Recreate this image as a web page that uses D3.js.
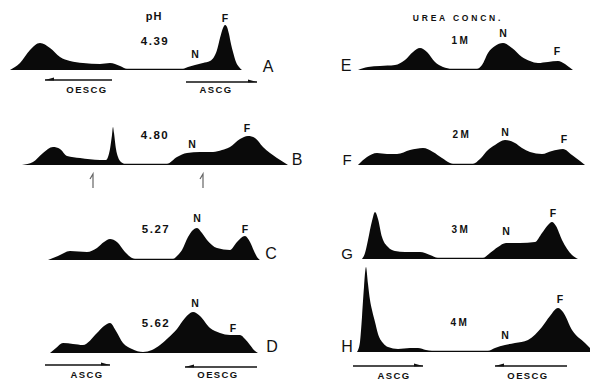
<!DOCTYPE html>
<html>
<head>
<meta charset="utf-8">
<script src="https://cdn.jsdelivr.net/npm/d3@7/dist/d3.min.js"></script>
<style>
  html, body { margin: 0; padding: 0; background: #fff; }
  svg { display: block; }
  text { font-family: "Liberation Sans", Arial, sans-serif; fill: #111; }
</style>
</head>
<body>
<svg id="chart" width="590" height="382"></svg>
<script>
// Densitometer scans of the electrophoresis strips.
// Each point is [distance along strip, deflection]; distance runs 0-280 across a column.

// pH series (left column)
const profileA = [[0,0],[10,7],[20,20],[30,27],[40,22],[50,13],[60,9],[73,7],[90,6],[100,7],[110,4],[117,1.2],
  [173,1.2],[178,3],[185,5],[193,7],[200,9],[204,13],[207,20],[210,32],[213,42],[215,45],[217,43],[219,36],
  [221,26],[223,18],[226,8],[229,3],[232,0]];
const profileB = [[12,0],[23,3],[33,12],[43,18],[50,16],[57,9],[70,7],[90,5],[96,5],[98,8],[100,16],[102,30],
  [103,38],[104,32],[106,16],[108,8],[111,3],[115,1.2],[157,1.2],[167,8],[177,12],[190,13],[203,13],[212,15],
  [220,18],[230,26],[238,29],[245,27],[253,18],[260,12],[267,7],[278,0]];
const profileC = [[38,0],[48,4],[60,9],[77,8],[87,12],[94,18],[100,21],[107,18],[115,8],[122,2],[125,1.2],
  [163,1.2],[168,5],[172,10],[178,23],[183,30],[187,32],[192,27],[197,20],[207,12],[220,10],[227,18],
  [235,24],[240,18],[244,9],[247,3],[250,0]];
const profileD = [[40,0],[46,5],[53,10],[63,9],[73,8],[87,20],[94,27],[100,30],[106,22],[113,10],[122,4],
  [133,1],[142,3],[150,8],[158,15],[167,24],[175,35],[183,41],[190,37],[200,25],[210,20],[220,18],[230,18],
  [235,14],[240,8],[244,3],[248,0]];

// Urea series (right column)
const profileE = [[53,0],[63,3],[75,4],[90,5],[100,10],[108,18],[115,22],[122,18],[130,8],[138,3],[147,1.2],
  [172,1.2],[177,5],[183,17],[190,24],[198,27],[207,22],[217,13],[225,9],[233,7],[243,8],[253,9],[260,6],
  [264,3],[268,0]];
const profileF = [[53,0],[62,8],[72,12],[82,11],[92,11],[105,15],[118,17],[128,13],[137,7],[145,2],[148,1.2],
  [168,1.2],[175,6],[183,15],[190,20],[200,25],[210,22],[217,17],[225,13],[237,11],[247,14],[258,16],
  [267,10],[275,4],[280,0]];
const profileG = [[57,0],[60,6],[63,19],[67,38],[70,47],[73,40],[77,22],[83,12],[90,8],[100,7],[115,7],
  [125,4],[133,1.2],[178,1.2],[185,6],[193,12],[201,16],[215,16],[230,17],[237,26],[243,34],[247,37],
  [251,33],[257,19],[267,4],[273,0]];
const profileH = [[52,0],[55,10],[57,35],[59,65],[61,85],[63,68],[65,52],[67,42],[70,30],[73,18],[78,9],
  [83,5],[93,3],[105,4],[113,4],[121,2],[127,1.2],[183,1.2],[190,4],[200,7],[210,9],[223,12],[237,25],
  [245,36],[253,44],[258,40],[267,22],[280,9],[285,4]];

const panelLetters = ["A", "B", "C", "D", "E", "F", "G", "H"];
const phValues = ["4.39", "4.80", "5.27", "5.62"];
const ureaValues = ["1M", "2M", "3M", "4M"];
const bandLabels = ["N", "F"];

const svg = d3.select("#chart");

const columns = [
  { x: d3.scaleLinear().domain([0, 280]).range([10, 290]) },
  { x: d3.scaleLinear().domain([0, 280]).range([305, 585]) }
];
const y = d3.scaleLinear().domain([0, 90]).range([0, -90]);

// layout of each trace: column, baseline, caption, band label positions, panel letter position
const panels = [
  { data: profileA, col: 0, base: 70,  cap: phValues[0],   capAt: [155, 45],  N: [195, 58],  F: [225, 22],  L: [268, 72],  ls: 16 },
  { data: profileB, col: 0, base: 165, cap: phValues[1],   capAt: [155, 139], N: [192, 148], F: [247, 132], L: [297, 165], ls: 16 },
  { data: profileC, col: 0, base: 260, cap: phValues[2],   capAt: [156, 233], N: [197, 222], F: [245, 233], L: [271, 259], ls: 16 },
  { data: profileD, col: 0, base: 353, cap: phValues[3],   capAt: [156, 327], N: [195, 307], F: [233, 332], L: [272, 352], ls: 16 },
  { data: profileE, col: 1, base: 70,  cap: ureaValues[0], capAt: [461, 44],  N: [503, 37],  F: [557, 55],  L: [346, 71],  ls: 16 },
  { data: profileF, col: 1, base: 165, cap: ureaValues[1], capAt: [462, 138], N: [505, 136], F: [564, 143], L: [347, 165], ls: 15 },
  { data: profileG, col: 1, base: 259, cap: ureaValues[2], capAt: [461, 233], N: [506, 235], F: [553, 217], L: [347, 259], ls: 15 },
  { data: profileH, col: 1, base: 352, cap: ureaValues[3], capAt: [460, 326], N: [505, 339], F: [560, 303], L: [347, 352], ls: 16 }
];

panels.forEach((p, i) => {
  const x = columns[p.col].x;
  const area = d3.area()
    .x(d => x(d[0]))
    .y0(y(0))
    .y1(d => y(d[1]))
    .curve(d3.curveMonotoneX);
  svg.append("g")
    .attr("transform", `translate(0,${p.base})`)
    .append("path")
    .datum(p.data)
    .attr("d", area)
    .attr("fill", "#0a0a0a");

  svg.append("text")
    .attr("x", p.capAt[0]).attr("y", p.capAt[1])
    .attr("text-anchor", "middle")
    .attr("font-size", p.col === 0 ? 11.5 : 10)
    .attr("font-weight", "bold")
    .attr("letter-spacing", p.col === 0 ? 1.5 : 2.5)
    .text(p.cap);

  [p.N, p.F].forEach((pos, j) => {
    svg.append("text")
      .attr("x", pos[0]).attr("y", pos[1])
      .attr("text-anchor", "middle")
      .attr("font-size", 10.5)
      .attr("font-weight", "bold")
      .text(bandLabels[j]);
  });

  svg.append("text")
    .attr("x", p.L[0]).attr("y", p.L[1])
    .attr("text-anchor", "middle")
    .attr("font-size", p.ls)
    .attr("font-weight", "normal")
    .text(panelLetters[i]);
});

// column headings
svg.append("text").attr("x", 154).attr("y", 20).attr("text-anchor", "middle")
  .attr("font-size", 11).attr("font-weight", "bold").attr("letter-spacing", 1).text("pH");
svg.append("text").attr("x", 458).attr("y", 21).attr("text-anchor", "middle")
  .attr("font-size", 8.5).attr("font-weight", "bold").attr("letter-spacing", 2.8).text("UREA CONCN.");

// direction arrows under the strips (half arrowheads)
const arrows = [
  { x1: 45,  x2: 112, y: 80,  dir: -1, label: "OESCG", lx: 87,  ly: 93 },
  { x1: 186, x2: 257, y: 82,  dir: 1,  label: "ASCG",  lx: 216, ly: 93 },
  { x1: 45,  x2: 110, y: 365, dir: 1,  label: "ASCG",  lx: 87,  ly: 378 },
  { x1: 185, x2: 257, y: 367, dir: -1, label: "OESCG", lx: 218, ly: 378 },
  { x1: 353, x2: 423, y: 366, dir: 1,  label: "ASCG",  lx: 394, ly: 379 },
  { x1: 495, x2: 567, y: 366, dir: -1, label: "OESCG", lx: 528, ly: 379 }
];
arrows.forEach(a => {
  svg.append("line")
    .attr("x1", a.x1).attr("x2", a.x2).attr("y1", a.y).attr("y2", a.y)
    .attr("stroke", "#111").attr("stroke-width", 1.3);
  const tip = a.dir > 0 ? a.x2 : a.x1;
  const back = tip - a.dir * 9;
  svg.append("path")
    .attr("d", `M${tip},${a.y} L${back},${a.y - 2.6} L${back},${a.y + 0.6} Z`)
    .attr("fill", "#111");
  svg.append("text")
    .attr("x", a.lx).attr("y", a.ly)
    .attr("text-anchor", "middle")
    .attr("font-size", 9.5).attr("font-weight", "bold").attr("letter-spacing", 1.4)
    .text(a.label);
});

// application markers under trace B
[93, 203].forEach(mx => {
  svg.append("path")
    .attr("d", `M${mx},188 L${mx},174 L${mx - 3},179`)
    .attr("fill", "none").attr("stroke", "#666").attr("stroke-width", 1.2);
});
</script>
</body>
</html>
